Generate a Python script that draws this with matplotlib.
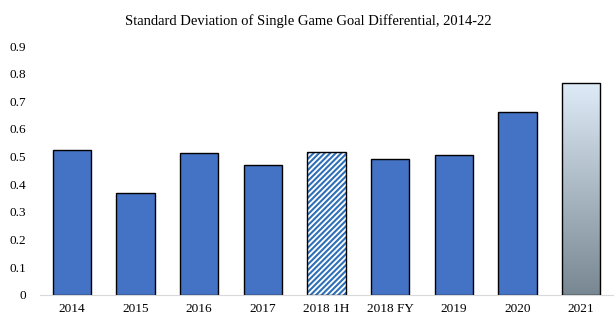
import numpy as np
import matplotlib
matplotlib.use("Agg")
import matplotlib.pyplot as plt

# values
labels = ['2014', '2015', '2016', '2017', '2018 1H', '2018 FY', '2019', '2020', '2021']
values = [0.523, 0.368, 0.512, 0.468, 0.518, 0.490, 0.504, 0.660, 0.765]
yticks = [0, 0.1, 0.2, 0.3, 0.4, 0.5, 0.6, 0.7, 0.8, 0.9]

blue = '#4472C4'
plt.rcParams['font.family'] = ['Liberation Serif', 'DejaVu Serif']
plt.rcParams['hatch.linewidth'] = 1.5

fig = plt.figure(figsize=(6.16, 3.24), dpi=100)
ax = fig.add_axes([0.065, 0.09, 0.93, 0.768])

x = np.arange(len(labels))
w = 0.6

for i, v in enumerate(values):
    if labels[i] == '2018 1H':
        ax.bar(i, v, w, color='white', edgecolor='#2e6fb8', hatch='//////', linewidth=0)
        ax.bar(i, v, w, fill=False, edgecolor='black', linewidth=1)
    elif labels[i] == '2021':
        b = ax.bar(i, v, w, color='none', edgecolor='black', linewidth=1, zorder=3)[0]
        grad = np.linspace(0, 1, 256).reshape(-1, 1)
        top = np.array([0.87, 0.92, 0.97])
        bot = np.array([0.47, 0.53, 0.57])
        img = bot + (top - bot) * grad[..., None]
        im = ax.imshow(img, extent=[i - w / 2, i + w / 2, 0, v], origin='lower',
                       aspect='auto', zorder=2)
        im.set_clip_path(b)
    else:
        ax.bar(i, v, w, color=blue, edgecolor='black', linewidth=1)

ax.set_xlim(-0.5, len(labels) - 0.5)
ax.set_ylim(0, 0.9)
ax.set_yticks(yticks)
ax.set_yticklabels(['0'] + ['%.1f' % t for t in yticks[1:]])
ax.set_xticks(x)
ax.set_xticklabels(labels)
ax.tick_params(length=0, labelsize=9.5, pad=6)
ax.tick_params(axis='y', pad=10)
for s in ['top', 'right', 'left']:
    ax.spines[s].set_visible(False)
ax.spines['bottom'].set_color('#d9d9d9')

fig.suptitle('Standard Deviation of Single Game Goal Differential, 2014-22',
             fontsize=10.5, y=0.955)

fig.savefig('out.png', dpi=100)
